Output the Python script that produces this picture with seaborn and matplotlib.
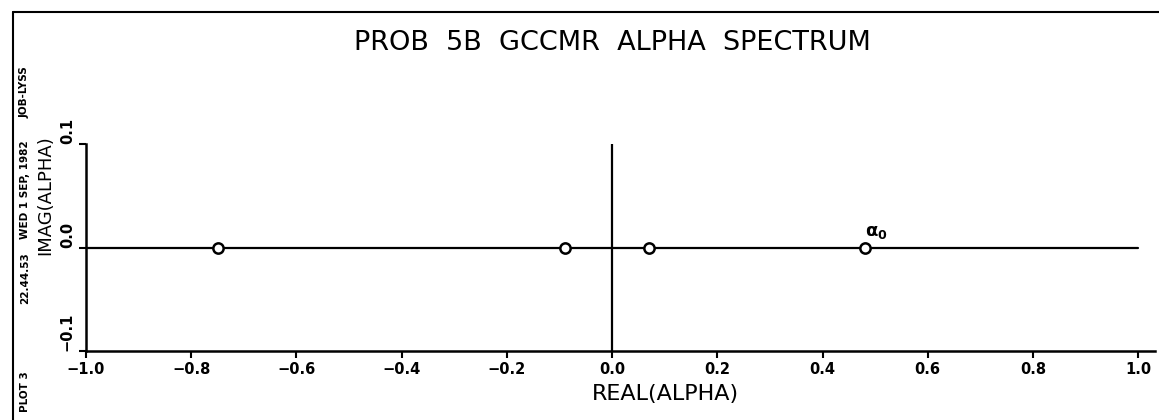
import matplotlib
matplotlib.use("Agg")
import matplotlib.pyplot as plt
import seaborn as sns
import pandas as pd
from matplotlib.lines import Line2D

# eigenvalues (real part, imaginary part)
real_part = [-0.75, -0.09, 0.07, 0.48]
imag_part = [0.0, 0.0, 0.0, 0.0]
x_ticks = [-1.0, -0.8, -0.6, -0.4, -0.2, 0.0, 0.2, 0.4, 0.6, 0.8, 1.0]
y_ticks = [-0.1, 0.0, 0.1]
axis_span = [-1.0, 1.0]
stamp = ["PLOT 3", "22.44.53", "WED 1 SEP, 1982", "JOB-LYSS"]

df = pd.DataFrame({"real": real_part, "imag": imag_part})

sns.set_style("ticks")
plt.rcParams["font.family"] = ["DejaVu Sans"]
plt.rcParams["text.color"] = "black"
plt.rcParams["axes.labelcolor"] = "black"
plt.rcParams["xtick.color"] = "black"
plt.rcParams["ytick.color"] = "black"
plt.rcParams["axes.edgecolor"] = "black"

W, H = 1159, 420
fig = plt.figure(figsize=(W / 100, H / 100), dpi=100)
ax = fig.add_axes([86 / W, 1 - 351 / H, (1155 - 86) / W, (351 - 144) / H])

# real axis line and imaginary axis line
sns.lineplot(x=axis_span, y=[0, 0], color="black", lw=1.6, ax=ax)
ax.plot([0, 0], [y_ticks[0], y_ticks[-1]], color="black", lw=1.6)

sns.scatterplot(data=df, x="real", y="imag", marker="o", s=55,
                facecolor="white", edgecolor="black", linewidth=1.8,
                zorder=5, ax=ax)

ax.annotate(r"$\mathbf{\alpha}_{\mathbf{0}}$", xy=(real_part[3], imag_part[3]),
            xytext=(0, 8), textcoords="offset points", fontsize=13)

ax.set_xlim(-1.0, 1.032)
ax.set_ylim(-0.1, 0.1)
ax.set_xticks(x_ticks)
ax.set_xticklabels([f"{v:.1f}".replace("-", "\u2212") for v in x_ticks],
                   fontsize=10.5, fontweight="bold")
ax.set_yticks(y_ticks)
ax.set_yticklabels([f"{v:.1f}".replace("-", "\u2212") for v in y_ticks],
                   fontsize=10.5, fontweight="bold", rotation=90, va="bottom")
ax.tick_params(direction="out", length=5, width=1.5, pad=3)

for side in ["top", "right"]:
    ax.spines[side].set_visible(False)
for side in ["left", "bottom"]:
    ax.spines[side].set_linewidth(1.8)

ax.set_xlabel("REAL(ALPHA)", fontsize=16)
ax.set_ylabel("IMAG(ALPHA)", fontsize=13)
ax.xaxis.set_label_coords((665 - 86) / (1155 - 86), (351 - 394) / 207)
ax.yaxis.set_label_coords((45 - 86) / (1155 - 86), (351 - 195) / 207)
ax.xaxis.label.set_va("center")
ax.yaxis.label.set_va("center")

fig.text(612 / W, 1 - 43 / H, "PROB  5B  GCCMR  ALPHA  SPECTRUM",
         ha="center", va="center", fontsize=19.5)

# page frame and side stamp
fig.add_artist(Line2D([13 / W, 1.0], [1 - 12 / H, 1 - 12 / H],
                      color="black", lw=1.5))
fig.add_artist(Line2D([13 / W, 13 / W], [0, 1 - 12 / H],
                      color="black", lw=1.5))
for text, ypx in zip(stamp, [392, 278, 190, 92]):
    fig.text(25 / W, 1 - ypx / H, text, rotation=90, ha="center",
             va="center", fontsize=7.5, fontweight="bold")

fig.savefig("out.png", dpi=100)
